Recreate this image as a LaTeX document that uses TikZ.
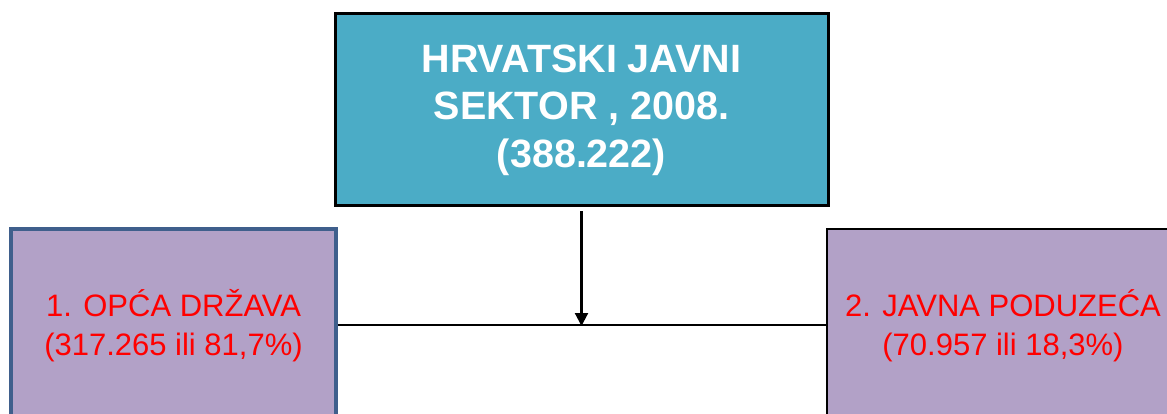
\documentclass[tikz,border=0pt]{standalone}
\usepackage{fontspec}
\setmainfont{Liberation Sans}
\usepackage{tikz}
\usetikzlibrary{positioning, arrows.meta}

\definecolor{sektorplava}{HTML}{4BACC6}
\definecolor{ljubicasta}{HTML}{B2A1C7}
\definecolor{rubplava}{HTML}{3F5F8C}

\tikzset{
	vrh/.style={draw=black, line width=3pt, fill=sektorplava, minimum width=493pt, minimum height=192pt, align=center, text=white, font=\fontsize{39.5}{47.5}\selectfont\bfseries},
	dio/.style={fill=ljubicasta, minimum height=194pt, align=center, text=red, font=\fontsize{31}{39}\selectfont},
	veza/.style={line width=2.2pt}
}

\begin{document}
\begin{tikzpicture}[x=1pt, y=-1pt]
		\useasboundingbox (0,0) rectangle (1167,414);
		\clip (0,0) rectangle (1167,414);
		\node[vrh] (hjs) at (581.5,110) {HRVATSKI JAVNI\\SEKTOR , 2008.\\(388.222)};
		\node[dio, draw=rubplava, line width=3.5pt, minimum width=325pt] (opca) at (173.5,326) {1. OPĆA DRŽAVA\\(317.265 ili 81,7\%)};
		\node[dio, draw=black, line width=2.8pt, minimum width=352pt] (javna) at (1003,326) {2. JAVNA PODUZEĆA\\(70.957 ili 18,3\%)};
		
		\draw[veza] (opca.east |- 0,325) -- (javna.west |- 0,325);
		\draw[veza, -{Triangle[length=13pt, width=13pt]}, shorten <=4pt] (hjs.south) -- (hjs.south |- 0,326);
	\end{tikzpicture}
\end{document}
